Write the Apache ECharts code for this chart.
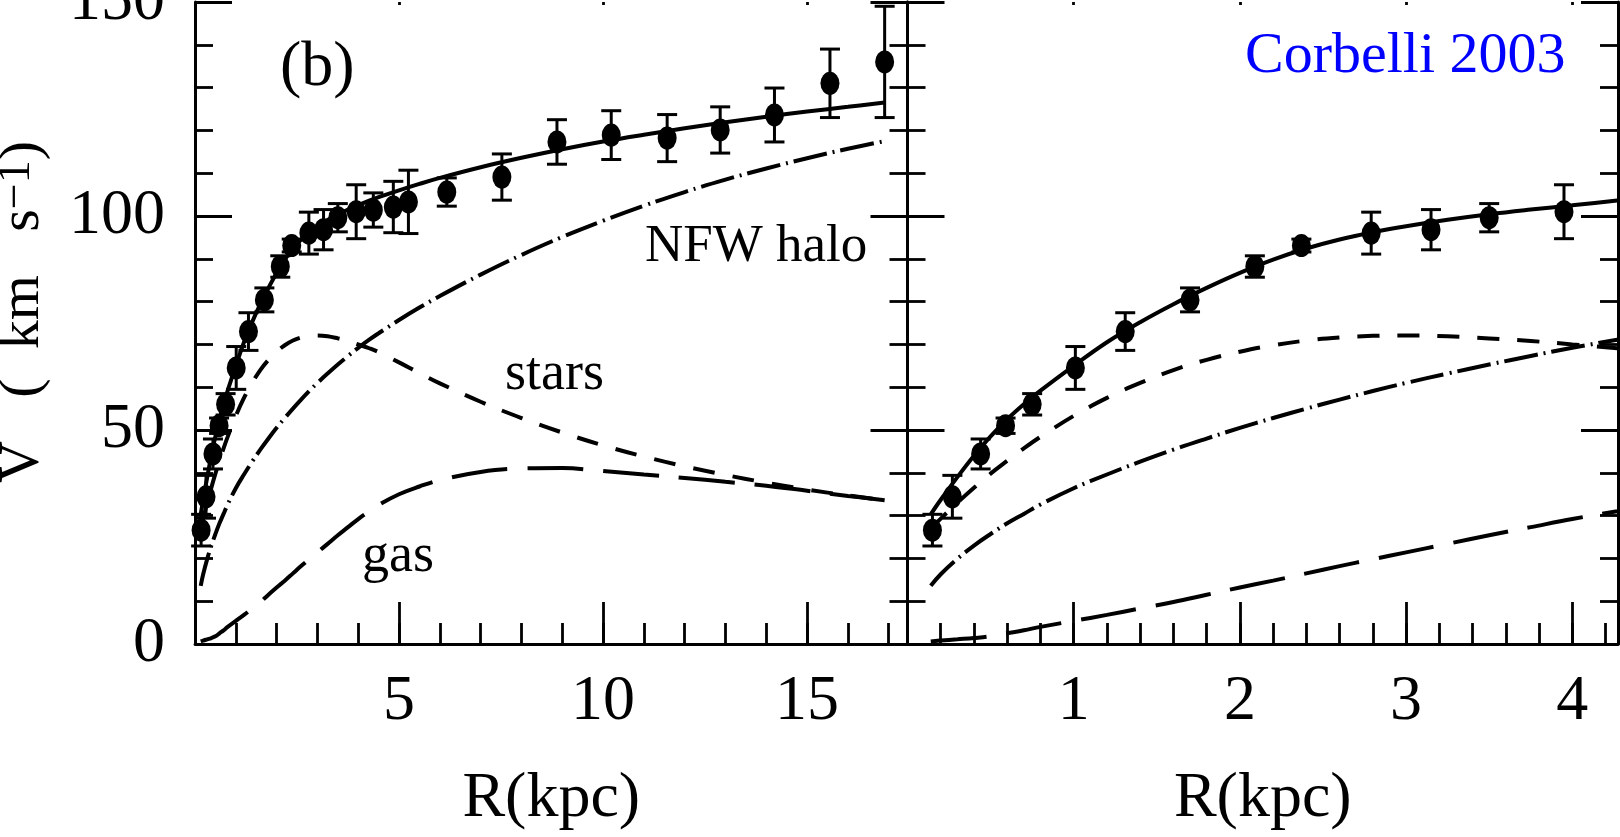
<!DOCTYPE html>
<html><head><meta charset="utf-8">
<script src="https://cdn.jsdelivr.net/npm/echarts@6/dist/echarts.min.js"></script>
<style>html,body{margin:0;padding:0;background:#fff;overflow:hidden}#c{width:1620px;height:837px}</style>
</head><body><div id="c"></div><script>
// Observed rotation curve (M33)
const obsR   = [0.15,0.27,0.44,0.59,0.75,1.01,1.31,1.70,2.09,2.37,2.79,3.15,3.50,3.95,4.37,4.86,5.23,6.17,7.52,8.87,10.2,11.57,12.87,14.2,15.56,16.9];
const obsV   = [26.6,34.4,44.4,51.0,56.0,64.5,73.0,80.4,88.2,93.1,96.0,96.8,99.6,101.0,101.4,102.1,103.3,105.6,109.1,117.3,118.9,118.2,120.1,123.6,131.0,136.0];
const obsErr = [3.7,5.0,3.5,1.8,2.5,5.0,4.4,2.8,2.5,1.5,4.9,4.7,3.3,6.3,4.0,6.0,7.4,3.3,5.4,5.2,5.7,5.5,5.4,6.3,8.0,13.0];

// Model curves
const modelR = [0.14,0.2,0.3,0.4,0.5,0.6,0.7,0.8,1.0,1.2,1.4,1.6,1.8,2.0,2.2,2.4,2.6,2.8,3.0,3.25,3.5,3.75,4.0,4.27,4.5,5.0,5.5,6.0,7.0,8.0,9.0,10,11,12,13,14,15,16,16.9];
const vTotal = [30.3,33.7,39,44,48.5,52.5,56,59.2,65,70.5,75.2,79.4,83.2,86.7,89.8,92.4,94.5,96.2,97.6,99.1,100.4,101.5,102.5,103.6,104.4,106,107.5,108.9,111.4,113.6,115.6,117.4,119,120.5,121.9,123.2,124.4,125.5,126.5];
const vHalo  = [13.6,16.3,19.9,23.0,25.7,28.2,30.4,32.6,36.4,39.6,42.6,45.4,48.0,50.5,52.8,55.0,57.1,59.1,61.0,63.2,65.3,67.3,69.2,71.1,72.6,75.7,78.6,81.3,86.3,90.9,95.1,98.9,102.4,105.6,108.5,111.1,113.5,115.7,117.5];
const vStars = [27,29.3,33,36.5,39.8,42.8,45.7,48.4,53.3,57.5,61,64,66.4,68.3,69.8,70.9,71.6,72,72.1,71.9,71.4,70.8,70,69.1,68.2,65.8,63.3,60.9,56.6,52.8,49.4,46.4,43.8,41.5,39.5,37.7,36.1,34.7,33.6];
const vGas   = [0.6,0.8,1.1,1.4,1.8,2.5,3.2,4.0,5.4,6.8,8.3,9.8,11.5,13.2,14.8,16.5,18.2,19.8,21.4,23.4,25.4,27.3,29.2,31,32.5,35,36.8,38.3,40.2,41,41.1,40.4,39.6,38.8,37.9,37,35.8,34.6,33.6];

// Tick labels
const yTickLabels = [0, 50, 100, 150];
const xTickLabelsLeft = [5, 10, 15];
const xTickLabelsRight = [1, 2, 3, 4];

const FONT = 'Liberation Serif';
const yMax = 150, leftXMax = 17.46, rightXMax = 4.275;

const chart = echarts.init(document.getElementById('c'), null, {renderer: 'canvas'});

const pts = obsR.map((r, i) => [r, obsV[i], obsErr[i]]);
const curve = arr => modelR.map((r, i) => [r, arr[i]]);

function errItem(params, api) {
  const x = api.value(0), y = api.value(1), e = api.value(2);
  const p1 = api.coord([x, y + e]), p2 = api.coord([x, y - e]);
  const w = 10, st = {stroke: '#000', lineWidth: 3};
  return {type: 'group', children: [
    {type: 'line', shape: {x1: p1[0], y1: p1[1], x2: p2[0], y2: p2[1]}, style: st},
    {type: 'line', shape: {x1: p1[0] - w, y1: p1[1], x2: p1[0] + w, y2: p1[1]}, style: st},
    {type: 'line', shape: {x1: p2[0] - w, y1: p2[1], x2: p2[0] + w, y2: p2[1]}, style: st}
  ]};
}

const tickStyle = {color: '#000', width: 2.8};
function xAxes(gi, max, major, minor, labels) {
  return [
    {type: 'value', gridIndex: gi, position: 'bottom', min: 0, max: max, interval: major,
     axisLine: {show: true, onZero: false, lineStyle: {color: '#000', width: 2.8}},
     axisTick: {show: true, inside: true, length: 42, lineStyle: tickStyle},
     splitLine: {show: false},
     axisLabel: {show: true, margin: 26, color: '#000', fontFamily: FONT, fontSize: 64, showMaxLabel: false, showMinLabel: false,
       formatter: v => labels.indexOf(Math.round(v * 1000) / 1000) >= 0 ? String(Math.round(v * 1000) / 1000) : ''},
     name: 'R(kpc)', nameLocation: 'middle', nameGap: 123,
     nameTextStyle: {color: '#000', fontFamily: FONT, fontSize: 64}},
    {type: 'value', gridIndex: gi, position: 'bottom', min: 0, max: max, interval: minor,
     axisLine: {show: false, onZero: false}, axisLabel: {show: false}, splitLine: {show: false},
     axisTick: {show: true, inside: true, length: 21, lineStyle: tickStyle}},
    {type: 'value', gridIndex: gi, position: 'top', min: 0, max: max, interval: major,
     axisLine: {show: false, onZero: false}, axisLabel: {show: false}, splitLine: {show: false},
     axisTick: {show: true, inside: true, length: 3, lineStyle: tickStyle}}
  ];
}
function yAxes(gi, showLabels) {
  const mk = (pos, major, labels) => ({
    type: 'value', gridIndex: gi, min: 0, max: yMax, interval: major ? 50 : 10, position: pos,
    axisLine: {show: major, onZero: false, lineStyle: {color: '#000', width: 3}},
    axisTick: {show: true, inside: true, length: major ? 37 : 18, lineStyle: tickStyle},
    splitLine: {show: false},
    axisLabel: {show: labels, margin: 30, color: '#000', fontFamily: FONT, fontSize: 64,
      formatter: v => yTickLabels.indexOf(v) >= 0 ? String(v) : ''}
  });
  return [mk('left', true, showLabels), mk('left', false, false), mk('right', true, false), mk('right', false, false)];
}

function panelSeries(xi, yi, xmax) {
  const p = pts.filter(d => d[0] <= xmax);
  const line = (data, type, z) => ({type: 'line', xAxisIndex: xi, yAxisIndex: yi, data: data, showSymbol: false, symbol: 'none',
    smooth: 0.4, clip: true, z: z, silent: true, animation: false,
    lineStyle: {color: '#000', width: 4, type: type, cap: 'butt', opacity: 1}});
  return [
    line(curve(vGas), [56, 20], 2),
    line(curve(vStars), [22, 18], 2),
    line(curve(vHalo), [34, 6, 2, 6], 2),
    line(curve(vTotal), 'solid', 3),
    {type: 'custom', xAxisIndex: xi, yAxisIndex: yi, data: p, renderItem: errItem, z: 4, silent: true, animation: false, encode: {x: 0, y: 1}},
    {type: 'scatter', xAxisIndex: xi, yAxisIndex: yi, data: p.map(d => [d[0], d[1]]), z: 5, silent: true, animation: false,
     symbol: 'path://M0,-10A10,10,0,1,1,0,10A10,10,0,1,1,0,-10Z', symbolSize: [19, 23], itemStyle: {color: '#000', opacity: 1}}
  ];
}

const option = {
  backgroundColor: '#fff',
  animation: false,
  grid: [
    {left: 195, top: 2, width: 712.5, bottom: 193, containLabel: false, outerBoundsMode: 'none'},
    {left: 907.5, top: 2, width: 710.5, bottom: 193, containLabel: false, outerBoundsMode: 'none'}
  ],
  xAxis: [...xAxes(0, leftXMax, 5, 1, xTickLabelsLeft), ...xAxes(1, rightXMax, 1, 0.2, xTickLabelsRight)],
  yAxis: [...yAxes(0, true), ...yAxes(1, false)],
  series: [...panelSeries(0, 0, leftXMax), ...panelSeries(3, 4, rightXMax)],
  graphic: [
    {type: 'text', x: 280, y: 68, style: {text: '(b)', font: '64px "Liberation Serif"', fill: '#000', verticalAlign: 'middle', align: 'left'}},
    {type: 'text', x: 645, y: 247, style: {text: 'NFW halo', font: '53px "Liberation Serif"', fill: '#000', verticalAlign: 'middle', align: 'left'}},
    {type: 'text', x: 505, y: 375, style: {text: 'stars', font: '54px "Liberation Serif"', fill: '#000', verticalAlign: 'middle', align: 'left'}},
    {type: 'text', x: 362, y: 557, style: {text: 'gas', font: '54px "Liberation Serif"', fill: '#000', verticalAlign: 'middle', align: 'left'}},
    {type: 'text', x: 1245, y: 57, style: {text: 'Corbelli 2003', font: '58px "Liberation Serif"', fill: '#0000ff', verticalAlign: 'middle', align: 'left'}},
    {type: 'text', x: 23, y: 312, rotation: Math.PI / 2,
     style: {text: 'V\u2002 (\u2002km\u2002 s{sup|\u22121})', font: '58px "Liberation Serif"', fill: '#000', align: 'center', verticalAlign: 'middle',
       rich: {sup: {fontSize: 46, fontFamily: FONT, verticalAlign: 'top', fill: '#000'}}}}
  ]
};
chart.setOption(option);
</script></body></html>
